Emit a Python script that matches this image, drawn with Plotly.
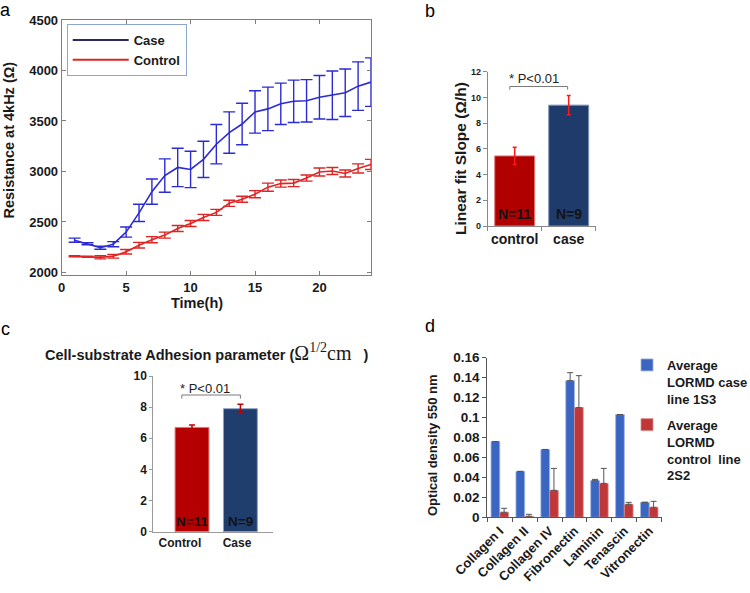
import plotly.graph_objects as go

FONT = "Liberation Sans, Arial, sans-serif"
SERIF = "Liberation Serif, Times New Roman, serif"
W, H = 750, 593

# ---------------- Panel a data ----------------
hours = list(range(1, 25))
case_res = [2320, 2285, 2245, 2280, 2400, 2590, 2800, 2960, 3040, 3020, 3120, 3270,
            3385, 3470, 3590, 3620, 3670, 3695, 3700, 3735, 3755, 3780, 3845, 3885]
case_err = [20, 10, 15, 25, 50, 85, 125, 165, 190, 180, 180, 195,
            205, 205, 210, 215, 205, 210, 210, 215, 240, 235, 240, 240]
ctrl_res = [2160, 2155, 2150, 2160, 2205, 2270, 2325, 2370, 2435, 2485, 2545, 2595,
            2685, 2725, 2775, 2845, 2880, 2885, 2935, 2995, 3005, 2980, 3030, 3070]
ctrl_err = [5, 5, 15, 18, 22, 28, 30, 30, 30, 30, 30, 30,
            30, 30, 35, 40, 35, 35, 30, 40, 35, 35, 45, 50]
a_xticks = [0, 5, 10, 15, 20]
a_yticks = [2000, 2500, 3000, 3500, 4000, 4500]

# ---------------- Panel b data ----------------
b_groups = ["control", "case"]
b_slope = [5.45, 9.4]
b_err = [0.67, 0.75]
b_n = ["N=11", "N=9"]

# ---------------- Panel c data ----------------
c_groups = ["Control", "Case"]
c_adh = [6.7, 7.9]
c_err = [0.15, 0.28]
c_n = ["N=11", "N=9"]

# ---------------- Panel d data ----------------
d_cats = ["Collagen I", "Collagen II", "Collagen IV", "Fibronectin", "Laminin", "Tenascin", "Vitronectin"]
d_case = [0.076, 0.046, 0.068, 0.137, 0.037, 0.103, 0.015]
d_case_err = [0, 0, 0, 0.008, 0.001, 0, 0]
d_ctrl = [0.005, 0.001, 0.027, 0.110, 0.034, 0.013, 0.010]
d_ctrl_err = [0.004, 0.002, 0.022, 0.032, 0.015, 0.002, 0.006]


def px(x):
    return x / W


def py(y):
    return 1 - y / H


fig = go.Figure()

# ---- a ----
fig.add_trace(go.Scatter(x=hours, y=case_res, mode="lines", showlegend=False,
                         line=dict(color="#2b2bd4", width=1.6),
                         error_y=dict(type="data", array=case_err, color="#2b2bd4", thickness=1.4, width=6),
                         xaxis="x", yaxis="y"))
fig.add_trace(go.Scatter(x=hours, y=ctrl_res, mode="lines", showlegend=False,
                         line=dict(color="#e02424", width=1.6),
                         error_y=dict(type="data", array=ctrl_err, color="#e02424", thickness=1.4, width=6),
                         xaxis="x", yaxis="y"))
fig.add_trace(go.Scatter(x=[None], y=[None], mode="lines", name="Case", legend="legend",
                         line=dict(color="#2a2a60", width=2), xaxis="x", yaxis="y"))
fig.add_trace(go.Scatter(x=[None], y=[None], mode="lines", name="Control", legend="legend",
                         line=dict(color="#e02424", width=2), xaxis="x", yaxis="y"))

# ---- b ----
fig.add_trace(go.Bar(x=b_groups, y=b_slope, width=0.74, showlegend=False,
                     marker=dict(color=["#b00000", "#1f3b6b"], line=dict(color=["#e07a7a", "#7f93b8"], width=1)),
                     error_y=dict(type="data", array=b_err, color="#ff1a1a", thickness=1.5, width=2),
                     xaxis="x2", yaxis="y2"))

# ---- c ----
fig.add_trace(go.Bar(x=[0, 1], y=c_adh, width=0.70, showlegend=False,
                     marker=dict(color=["#b40000", "#1f3d6d"], line=dict(color=["#e07a7a", "#8da0c4"], width=1)),
                     error_y=dict(type="data", array=c_err, color="#c00000", thickness=1.5, width=3),
                     xaxis="x3", yaxis="y3"))

# ---- d ----
fig.add_trace(go.Bar(x=d_cats, y=d_case, name="Average<br>LORMD case<br>line 1S3",
                     legend="legend2", legendgroup="g1",
                     marker=dict(color="#3a66c2", line=dict(color="#9fb5e0", width=0.8)),
                     error_y=dict(type="data", array=d_case_err, arrayminus=[0] * 7, symmetric=False,
                                  color="#555555", thickness=1, width=3),
                     xaxis="x4", yaxis="y4"))
fig.add_trace(go.Bar(x=d_cats, y=d_ctrl, name="Average<br>LORMD<br>control  line<br>2S2",
                     legend="legend2", legendgroup="g2",
                     marker=dict(color="#c0373a", line=dict(color="#d98a8a", width=0.8)),
                     error_y=dict(type="data", array=d_ctrl_err, arrayminus=[0] * 7, symmetric=False,
                                  color="#555555", thickness=1, width=3),
                     xaxis="x4", yaxis="y4"))

bold13 = dict(family=FONT, size=13, color="#1a1a1a", weight="bold")

fig.update_layout(
    width=W, height=H,
    margin=dict(l=0, r=0, t=0, b=0, autoexpand=False),
    paper_bgcolor="white", plot_bgcolor="white",
    barmode="group", bargap=0.3, bargroupgap=0,
    font=dict(family=FONT, color="#1a1a1a"),
    # a
    xaxis=dict(domain=[px(61.7), px(371)], range=[0, 24], tickvals=a_xticks, anchor="y",
               ticks="inside", ticklen=4, tickcolor="#7f7f7f", showline=True, linecolor="#7f7f7f",
               mirror="ticks", showgrid=False, zeroline=False, tickfont=bold13),
    yaxis=dict(domain=[py(275), py(20)], range=[1975, 4500], tickvals=a_yticks, anchor="x",
               ticks="inside", ticklen=4, tickcolor="#7f7f7f", showline=True, linecolor="#7f7f7f",
               mirror="ticks", showgrid=False, zeroline=False, tickfont=bold13),
    # b
    xaxis2=dict(domain=[px(487.7), px(595.7)], type="category", range=[-0.5, 1.5], anchor="y2",
                ticks="outside", tickson="boundaries", ticklen=4, tickcolor="#888", showline=True,
                linecolor="#888", showgrid=False, zeroline=False, tickangle=0,
                tickfont=dict(family=FONT, size=14, color="#1a1a1a", weight="bold")),
    yaxis2=dict(domain=[py(226), py(71.7)], range=[0, 12], dtick=2, anchor="x2",
                ticks="outside", ticklen=4, tickcolor="#888", showline=True, linecolor="#888",
                showgrid=False, zeroline=False,
                tickfont=dict(family=FONT, size=9, color="#1a1a1a", weight="bold")),
    # c
    xaxis3=dict(domain=[px(153.3), px(273.3)], range=[-0.8, 1.68], anchor="y3",
                tickvals=[-0.25, 0.93], ticktext=c_groups, ticks="", showline=True, tickangle=0,
                linecolor="#999", showgrid=False, zeroline=False,
                tickfont=dict(family=FONT, size=12, color="#1a1a1a", weight="bold")),
    yaxis3=dict(domain=[py(531.7), py(376)], range=[0, 10], dtick=2, anchor="x3",
                ticks="outside", ticklen=3, tickcolor="#999", showline=True, linecolor="#999",
                showgrid=False, zeroline=False,
                tickfont=dict(family=FONT, size=12, color="#1a1a1a", weight="bold")),
    # d
    xaxis4=dict(domain=[px(487.3), px(661.7)], type="category", anchor="y4", tickangle=-45,
                ticks="outside", tickson="boundaries", ticklen=4, tickcolor="#555", showline=True,
                linecolor="#555", showgrid=False, zeroline=False,
                tickfont=dict(family=FONT, size=13, color="#1a1a1a", weight="bold")),
    yaxis4=dict(domain=[py(517.3), py(357.7)], range=[0, 0.16], dtick=0.02, anchor="x4",
                ticks="outside", ticklen=4, tickcolor="#555", showline=True, linecolor="#555",
                showgrid=False, zeroline=False,
                tickfont=dict(family=FONT, size=13.5, color="#1a1a1a", weight="bold")),
    legend=dict(x=px(66.7), y=py(24), xanchor="left", yanchor="top", bgcolor="white",
                bordercolor="#8fa6cc", borderwidth=1, font=bold13, tracegroupgap=0,
                itemwidth=56),
    legend2=dict(x=px(627), y=py(350), xanchor="left", yanchor="top", bgcolor="rgba(0,0,0,0)",
                 font=bold13, valign="top", tracegroupgap=6),
)

# brackets
line_style = dict(color="#7a7a7a", width=1)
for (xr, yr, x0, x1, ytop, ybot) in [("x2", "y2", -0.09, 0.98, 10.85, 10.6),
                                      ("x3", "y3", -0.21, 1.0, 8.78, 8.55)]:
    fig.add_shape(type="line", xref=xr, yref=yr, x0=x0, x1=x1, y0=ytop, y1=ytop, line=line_style)
    fig.add_shape(type="line", xref=xr, yref=yr, x0=x0, x1=x0, y0=ytop, y1=ybot, line=line_style)
    fig.add_shape(type="line", xref=xr, yref=yr, x0=x1, x1=x1, y0=ytop, y1=ybot, line=line_style)

ann = []


def paper_text(text, x, y, size, angle=0, color="#1a1a1a", xanchor="center"):
    return dict(text=text, x=px(x), y=py(y), xref="paper", yref="paper", showarrow=False,
                xanchor=xanchor, yanchor="middle", textangle=angle,
                font=dict(family=FONT, size=size, color=color))


# panel letters
for t, x, y in [("a", 5, 10), ("b", 430, 11), ("c", 5, 329), ("d", 430, 326)]:
    ann.append(paper_text(t, x, y, 18, color="black"))
# axis titles
ann.append(paper_text("<b>Resistance at 4kHz (Ω)</b>", 8.5, 140, 14.5, angle=-90))
ann.append(paper_text("<b>Time(h)</b>", 197, 303, 14.5))
ann.append(paper_text("<b>Linear fit Slope (Ω/h)</b>", 460, 158, 15.5, angle=-90))
ann.append(paper_text("<b>Optical density 550 nm</b>", 432, 445, 13, angle=-90))
ann.append(paper_text("<b>Cell-substrate Adhesion parameter (</b>"
                      "<span style='font-family:Liberation Serif, Times New Roman, serif;font-size:20px'>Ω"
                      "<sup>1/2</sup>cm</span>   <b>)</b>", 43, 352, 14.5, xanchor="left"))
# p-values
ann.append(dict(text="* P<0.01", x=0.36, y=11.5, xref="x2", yref="y2", showarrow=False,
                font=dict(family=FONT, size=13, color="#222")))
ann.append(dict(text="* P<0.01", x=0.27, y=9.21, xref="x3", yref="y3", showarrow=False,
                font=dict(family=FONT, size=13, color="#222")))
# N labels
for i, t in enumerate(b_n):
    ann.append(dict(text="<b>" + t + "</b>", x=i, y=0, xref="x2", yref="y2", yanchor="bottom",
                    yshift=2, showarrow=False, font=dict(family=FONT, size=14, color="#141414")))
for i, t in enumerate(c_n):
    ann.append(dict(text="<b>" + t + "</b>", x=i, y=0, xref="x3", yref="y3", yanchor="bottom",
                    yshift=1, showarrow=False, font=dict(family=FONT, size=13.5, color="#141414")))

fig.update_layout(annotations=ann)
fig.write_html("out.html", post_script="document.body.style.margin='0';",
               config={"displayModeBar": False})
